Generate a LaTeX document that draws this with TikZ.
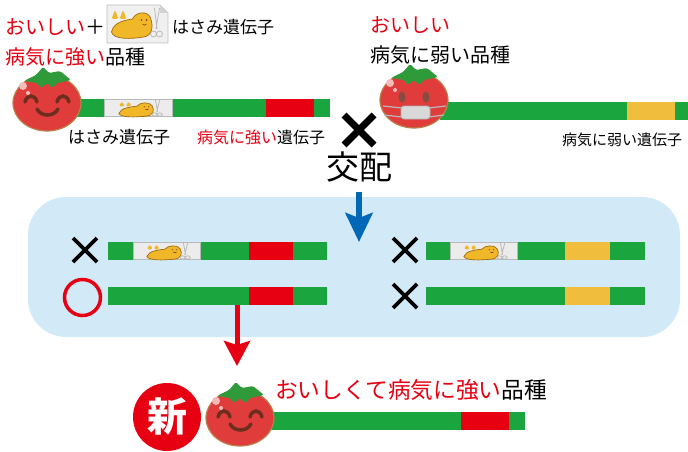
\documentclass[tikz,border=0pt]{standalone}
\usepackage{fontspec}
\setmainfont{Noto Sans CJK JP}
\usetikzlibrary{arrows.meta}

\definecolor{akared}{HTML}{E60012}
\definecolor{bargreen}{HTML}{1BA53E}
\definecolor{baryellow}{HTML}{F0BE3C}
\definecolor{boxblue}{HTML}{D2EAF8}
\definecolor{arrowblue}{HTML}{0068B7}
\definecolor{tomred}{HTML}{E03C3C}
\definecolor{tomedge}{HTML}{B8804A}
\definecolor{leafgreen}{HTML}{2E9A3A}
\definecolor{facebrown}{HTML}{6E2E1E}
\definecolor{slug}{HTML}{F0B828}
\definecolor{slugedge}{HTML}{A06A10}

\tikzset{
  lbl/.style={inner sep=0pt, anchor=west},
  f15/.style={font=\fontsize{15}{18}\selectfont},
  f16/.style={font=\fontsize{16}{19}\selectfont},
  f17/.style={font=\fontsize{17}{20}\selectfont},
  f20/.style={font=\fontsize{20}{24}\selectfont},
  genebox/.style={fill=gray!15, draw=gray!55, line width=0.8pt},
  batsu/.style={line width=3.8pt},
  bluearr/.style={arrowblue, line width=6pt, -{Stealth[length=29pt,width=27pt,inset=5pt]}},
  redarr/.style={akared, line width=5pt, -{Stealth[length=25pt,width=26pt,inset=4pt]}},
  % 番茄本体
  tomabody/.pic={
    \fill[tomred, draw=tomedge, line width=1.2pt] (0,3) ellipse [x radius=34, y radius=28];
    \fill[leafgreen, rounded corners=1.5pt] (-23,-19) -- (-11,-25) -- (-4,-33) -- (2,-27)
      -- (13,-29) -- (24,-20) -- (10,-17) -- (5,-12) -- (0,-17) -- (-6,-12) -- (-10,-17) -- cycle;
    \fill[tomred!35!white] (-24,-14) circle (4) (-19,-7) circle (2);
  },
  tomato/.pic={
    \pic {tomabody};
    \draw[facebrown, line width=3.5pt, line cap=round]
      (-22,2) .. controls (-20,-6) and (-12,-6) .. (-10,2)
      (10,2) .. controls (12,-6) and (20,-6) .. (22,2)
      (-10,9) .. controls (-6,17) and (7,17) .. (11,9);
  },
  sicktomato/.pic={
    \pic {tomabody};
    \fill[facebrown!85] (-12,0) ellipse [x radius=3.5, y radius=5.5]
      (12,0) ellipse [x radius=3.5, y radius=5.5];
    \draw[gray!55, line width=1.2pt] (-31,9) -- (-12,11) (15,11) -- (32,9)
      (-30,18) -- (-12,20) (15,20) -- (30,18);
    \fill[gray!30, draw=gray!60, line width=0.8pt, rounded corners=3pt] (-13,9) rectangle (16,22);
  },
  % 剪刀基因图标
  hasami/.pic={
    \fill[slug, rounded corners=1.5pt] (-26,-5) -- (-22.5,-14) -- (-19,-5) -- cycle
      (-18,-5) -- (-14.5,-14) -- (-11,-5) -- cycle;
    \filldraw[fill=slug, draw=slugedge, line width=0.7pt] (-26,8) .. controls (-24,-2) and (-12,-4) .. (-5,-5)
      .. controls (-2,-12) and (10,-14) .. (13,-6) .. controls (16,2) and (15,12) .. (6,13)
      .. controls (-6,15) and (-24,16) .. cycle;
    \fill[facebrown] (4,-4) circle (0.9) (9,-4) circle (0.9);
    \draw[facebrown, line width=0.5pt] (5,0) .. controls (6,1.5) and (8,1.5) .. (9,0);
    \draw[gray!55, line width=0.8pt] (17,-16) -- (19.5,5) (22,-16) -- (18.5,5)
      (16,10) circle (3) (22,10) circle (3);
  }
}

\begin{document}
\begin{tikzpicture}[x=1pt,y=-1pt]
  \useasboundingbox (0,0) rectangle (688,452);

  % 交配结果的浅蓝底框
  \fill[boxblue, rounded corners=38pt] (28,197) rectangle (680,337);

  % 左上:美味且抗病的品种
  \fill[bargreen] (75,99) rectangle (330,117);
  \fill[akared] (266,99) rectangle (314,117);
  \draw[genebox] (104,99.5) rectangle (172,116.5);
  \pic[xscale=0.85, yscale=0.55] at (141,109) {hasami};
  \pic (tomA) at (47,100) {tomato};

  \node[lbl, f20] (oishiiA) at (5,27) {\textcolor{akared}{おいしい}＋};
  \fill[gray!12, draw=gray!50, line width=0.8pt] (107,5) -- (160,5) -- (168,13) -- (168,43) -- (107,43) -- cycle;
  \fill[gray!35] (160,5) -- (160,13) -- (168,13) -- cycle;
  \pic at (137.5,24) {hasami};
  \node[lbl, f17] (hasamiA) at (172,27) {はさみ遺伝子};
  \node[lbl, f20] (hinshuA) at (5,57) {\textcolor{akared}{病気に強い}品種};
  \node[lbl, f17] (hasamiB) at (68,137) {はさみ遺伝子};
  \node[lbl, f16] (tsuyoiB) at (197,137) {\textcolor{akared}{病気に強い}遺伝子};

  % 右上:美味但不抗病的品种
  \fill[bargreen] (440,102) rectangle (688,120);
  \fill[baryellow] (627,102) rectangle (675,120);
  \pic (tomB) at (414,97) {sicktomato};
  \node[lbl, f20, text=akared] (oishiiB) at (370,25) {おいしい};
  \node[lbl, f20] (hinshuB) at (370,55) {病気に弱い品種};
  \node[lbl, f15] (yowaiB) at (562,140) {病気に弱い遺伝子};

  % 交配
  \draw[line width=7pt] (344,115) -- (374,145) (374,115) -- (344,145);
  \node[inner sep=0pt, font=\fontsize{33}{36}\selectfont] (koubai) at (359,167) {交配};
  \coordinate (boxTop) at (359,192);
  \coordinate (boxTip) at (359,242);
  \draw[bluearr] (boxTop) -- (boxTip);

  % 框内四种组合
  \fill[bargreen] (108,242) rectangle (327,260);
  \fill[akared] (249,242) rectangle (293,260);
  \draw[genebox] (133,242.5) rectangle (200,259.5);
  \pic[xscale=0.85, yscale=0.55] at (169,252) {hasami};
  \fill[bargreen] (108,287) rectangle (327,305);
  \fill[akared] (249,287) rectangle (293,305);

  \fill[bargreen] (426,242) rectangle (645,260);
  \fill[baryellow] (565,242) rectangle (610,260);
  \draw[genebox] (450,242.5) rectangle (517,259.5);
  \pic[xscale=0.85, yscale=0.55] at (486,252) {hasami};
  \fill[bargreen] (426,287) rectangle (645,305);
  \fill[baryellow] (565,287) rectangle (610,305);

  \draw[batsu] (73,238) -- (97,262) (97,238) -- (73,262);
  \draw[batsu] (393,238) -- (417,262) (417,238) -- (393,262);
  \draw[batsu] (393,284) -- (417,308) (417,284) -- (393,308);
  \draw[akared, line width=3.5pt] (82.5,297.5) circle (18);

  % 选出的新品种
  \coordinate (pick) at (237,305);
  \coordinate (newTip) at (237,366);
  \draw[redarr] (pick) -- (newTip);

  \fill[bargreen] (270,412) rectangle (525,430);
  \fill[akared] (461,412) rectangle (509,430);
  \pic (tomC) at (240,415) {tomato};
  \node[circle, fill=akared, inner sep=0pt, minimum size=68pt, text=white,
    font=\fontsize{40}{40}\selectfont\bfseries] (shin) at (167,417) {新};
  \node[lbl, font=\fontsize{22.7}{26}\selectfont] (newHinshu) at (275,390)
    {\textcolor{akared}{おいしくて病気に強い}品種};
\end{tikzpicture}
\end{document}
